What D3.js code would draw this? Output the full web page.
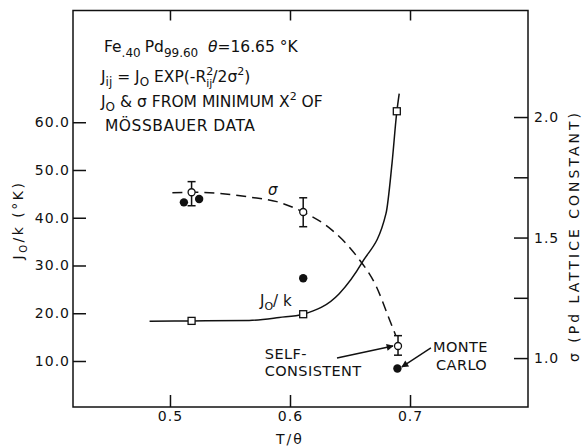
<!DOCTYPE html>
<html>
<head>
<meta charset="utf-8">
<script src="https://cdn.jsdelivr.net/npm/d3@7"></script>
<style>
	body { margin: 0; background: #fff; }
	svg { display: block; font-family: "DejaVu Sans", sans-serif; }
	.axis path { display: none; }
	.axis line { stroke: #111; stroke-width: 1.5; }
	.axis text { font-family: "DejaVu Sans", sans-serif; font-size: 14px; fill: #111; letter-spacing: 1px; }
</style>
</head>
<body>
<svg id="chart" width="582" height="446"></svg>
<script>
// J0/k measured points (squares) and the smooth curve through them
let jT = [0.518, 0.611, 0.689];
let jVal = [18.4, 19.8, 62.3];
let jFitT = [0.483, 0.518, 0.566, 0.591, 0.611, 0.641, 0.66, 0.68, 0.685, 0.689, 0.691];
let jFitV = [18.3, 18.4, 18.5, 19.1, 19.8, 24.1, 30.6, 40.9, 51.4, 62.2, 66.0];

// sigma points with error bars (open circles) and the dashed curve
let sigT = [0.518, 0.611, 0.69];
let sigVal = [1.688, 1.606, 1.05];
let sigLo = [1.632, 1.545, 1.012];
let sigHi = [1.732, 1.665, 1.093];
let sigFitT = [0.502, 0.518, 0.542, 0.566, 0.589, 0.611, 0.635, 0.656, 0.672, 0.683, 0.688];
let sigFitV = [1.686, 1.688, 1.683, 1.668, 1.649, 1.606, 1.531, 1.42, 1.296, 1.158, 1.095];

// filled dots
let dotT = [0.5116, 0.5243, 0.611, 0.6895];
let dotV = [1.646, 1.66, 1.331, 0.957];

// ticks
let xTicks = [0.5, 0.6, 0.7];
let jTicks = [10, 20, 30, 40, 50, 60];
let sigTicks = [1.0, 1.25, 1.5, 1.75, 2.0];
let sigLabels = [1.0, 1.5, 2.0];

let size = { w: 582, h: 446 };
let margins = { top: 10.5, right: 54, bottom: 39, left: 73 };
let svg = d3.select("#chart");

let x = d3.scaleLinear().domain([0.4192, 0.7983])
	.range([margins.left, size.w - margins.right]);
let yJ = d3.scaleLinear().domain([0.366, 83.4])
	.range([size.h - margins.bottom, margins.top]);
let yS = d3.scaleLinear().domain([0.797, 2.442])
	.range([size.h - margins.bottom, margins.top]);

let defs = svg.append("defs");
defs.append("marker")
	.attr("id", "head")
	.attr("viewBox", "0 0 10 10")
	.attr("refX", 9).attr("refY", 5)
	.attr("markerWidth", 9).attr("markerHeight", 7)
	.attr("markerUnits", "userSpaceOnUse")
	.attr("orient", "auto")
	.append("path")
	.attr("d", "M0,0 L10,5 L0,10 Z")
	.attr("fill", "#111");

// axes (ticks point inward)
svg.append("g").classed("axis", true)
	.attr("transform", `translate(0, ${size.h - margins.bottom})`)
	.call(d3.axisBottom(x).tickValues(xTicks).tickSize(-12).tickPadding(4)
		.tickFormat(d3.format(".1f")));

svg.append("g").classed("axis", true)
	.attr("transform", `translate(0, ${margins.top})`)
	.call(d3.axisTop(x).tickValues(xTicks).tickSize(-10).tickFormat(""));

svg.append("g").classed("axis", true)
	.attr("transform", `translate(${margins.left}, 0)`)
	.call(d3.axisLeft(yJ).tickValues(jTicks).tickSize(-13).tickPadding(3)
		.tickFormat(d3.format(".1f")));

svg.append("g").classed("axis", true)
	.attr("transform", `translate(${size.w - margins.right}, 0)`)
	.call(d3.axisRight(yS).tickValues(sigTicks).tickSize(-14).tickPadding(6)
		.tickFormat((d) => sigLabels.includes(d) ? d.toFixed(1) : ""));

// frame
svg.append("rect")
	.attr("x", margins.left).attr("y", margins.top)
	.attr("width", size.w - margins.left - margins.right)
	.attr("height", size.h - margins.top - margins.bottom)
	.attr("fill", "none").attr("stroke", "#111").attr("stroke-width", 1.5);

// axis titles
let jTitle = svg.append("text")
	.attr("transform", "translate(23, 220) rotate(-90)")
	.attr("text-anchor", "middle")
	.attr("font-size", 14).attr("letter-spacing", 2.5).attr("fill", "#111");
jTitle.append("tspan").text("J");
jTitle.append("tspan").attr("font-size", 10).attr("dy", 4).text("O");
jTitle.append("tspan").attr("dy", -4).text("/k (°K)");

svg.append("text")
	.attr("transform", "translate(579, 236) rotate(-90)")
	.attr("text-anchor", "middle")
	.attr("font-size", 14).attr("letter-spacing", 3).attr("fill", "#111")
	.text("σ (Pd LATTICE CONSTANT)");

svg.append("text")
	.attr("x", x(0.6)).attr("y", 444)
	.attr("text-anchor", "middle")
	.attr("font-size", 14).attr("letter-spacing", 2).attr("fill", "#111")
	.text("T/θ");

// J0/k curve and squares
let line = d3.line()
	.x((d) => x(d[0]))
	.curve(d3.curveMonotoneX);

svg.append("path")
	.datum(d3.zip(jFitT, jFitV))
	.attr("d", line.y((d) => yJ(d[1])))
	.attr("fill", "none").attr("stroke", "#111").attr("stroke-width", 1.5);

svg.append("g")
	.selectAll("rect")
	.data(d3.zip(jT, jVal))
	.join("rect")
	.attr("x", (d) => x(d[0]) - 3.5)
	.attr("y", (d) => yJ(d[1]) - 3.5)
	.attr("width", 7).attr("height", 7)
	.attr("fill", "#fff").attr("stroke", "#111").attr("stroke-width", 1.3);

// sigma dashed curve
svg.append("path")
	.datum(d3.zip(sigFitT, sigFitV))
	.attr("d", line.y((d) => yS(d[1])))
	.attr("fill", "none").attr("stroke", "#111").attr("stroke-width", 1.5)
	.attr("stroke-dasharray", "10,6");

// error bars
let bars = svg.append("g").attr("stroke", "#111").attr("stroke-width", 1.5);
sigT.forEach((t, i) => {
	let cx = x(t);
	bars.append("line").attr("x1", cx).attr("x2", cx)
		.attr("y1", yS(sigHi[i])).attr("y2", yS(sigLo[i]));
	bars.append("line").attr("x1", cx - 4).attr("x2", cx + 4)
		.attr("y1", yS(sigHi[i])).attr("y2", yS(sigHi[i]));
	bars.append("line").attr("x1", cx - 4).attr("x2", cx + 4)
		.attr("y1", yS(sigLo[i])).attr("y2", yS(sigLo[i]));
});

svg.append("g")
	.selectAll("circle")
	.data(d3.zip(sigT, sigVal))
	.join("circle")
	.attr("cx", (d) => x(d[0]))
	.attr("cy", (d) => yS(d[1]))
	.attr("r", 3.5)
	.attr("fill", "#fff").attr("stroke", "#111").attr("stroke-width", 1.3);

svg.append("g")
	.selectAll("circle")
	.data(d3.zip(dotT, dotV))
	.join("circle")
	.attr("cx", (d) => x(d[0]))
	.attr("cy", (d) => yS(d[1]))
	.attr("r", 4.2)
	.attr("fill", "#111");

// labels on curves
svg.append("text")
	.attr("x", x(0.5817)).attr("y", yS(1.676))
	.attr("font-size", 15).attr("font-style", "italic").attr("fill", "#111")
	.text("σ");

let jLab = svg.append("text")
	.attr("x", x(0.575)).attr("y", yJ(21.5))
	.attr("font-size", 15).attr("fill", "#111");
jLab.append("tspan").text("J");
jLab.append("tspan").attr("font-size", 11).attr("dy", 4).text("O");
jLab.append("tspan").attr("dy", -4).text("/ k");

// SELF-CONSISTENT / MONTE CARLO arrows
let scEnd = [x(sigT[2]) - 5, yS(sigVal[2])];
svg.append("line")
	.attr("x1", scEnd[0] - 56).attr("y1", scEnd[1] + 12)
	.attr("x2", scEnd[0]).attr("y2", scEnd[1])
	.attr("stroke", "#111").attr("stroke-width", 1.4)
	.attr("marker-end", "url(#head)");

let mcEnd = [x(dotT[3]) + 4.5, yS(dotV[3]) - 1.5];
svg.append("line")
	.attr("x1", mcEnd[0] + 29).attr("y1", mcEnd[1] - 19)
	.attr("x2", mcEnd[0]).attr("y2", mcEnd[1])
	.attr("stroke", "#111").attr("stroke-width", 1.4)
	.attr("marker-end", "url(#head)");

let note = svg.append("g").attr("font-size", 14.5).attr("letter-spacing", 0.4).attr("fill", "#111");
note.append("text").attr("x", x(0.579)).attr("y", yS(0.998)).text("SELF-");
note.append("text").attr("x", x(0.579)).attr("y", yS(0.927)).text("CONSISTENT");
note.append("text").attr("x", x(0.7192)).attr("y", yS(1.025)).text("MONTE");
note.append("text").attr("x", x(0.7217)).attr("y", yS(0.952)).text("CARLO");

// annotation block
let ann = svg.append("g").attr("font-size", 15.5).attr("fill", "#111");

let l1 = ann.append("text").attr("x", 104).attr("y", 52);
l1.append("tspan").text("Fe");
l1.append("tspan").attr("font-size", 12).attr("dy", 5).text(".40");
l1.append("tspan").attr("dy", -5).attr("dx", 4).text("Pd");
l1.append("tspan").attr("font-size", 12).attr("dy", 5).text("99.60");
l1.append("tspan").attr("x", 208).attr("dy", -5).attr("font-style", "italic").text("θ");
l1.append("tspan").text("=16.65 °K");

let l2 = ann.append("text").attr("x", 101).attr("y", 82);
l2.append("tspan").text("J");
l2.append("tspan").attr("font-size", 12).attr("dy", 4).text("ij");
l2.append("tspan").attr("dy", -4).text(" = J");
l2.append("tspan").attr("font-size", 12).attr("dy", 4).text("O");
l2.append("tspan").attr("dy", -4).text(" EXP(-R");
l2.append("tspan").attr("font-size", 11).attr("dy", -7).text("2");
l2.append("tspan").attr("font-size", 11).attr("dx", -7).attr("dy", 12).text("ij");
l2.append("tspan").attr("dy", -5).text("/2σ");
l2.append("tspan").attr("font-size", 11).attr("dy", -7).text("2");
l2.append("tspan").attr("dy", 7).text(")");

let l3 = ann.append("text").attr("x", 101).attr("y", 107);
l3.append("tspan").text("J");
l3.append("tspan").attr("font-size", 12).attr("dy", 4).text("O");
l3.append("tspan").attr("dy", -4).text(" & σ FROM MINIMUM X");
l3.append("tspan").attr("font-size", 11).attr("dy", -7).text("2");
l3.append("tspan").attr("dy", 7).text(" OF");

ann.append("text").attr("x", 105).attr("y", 131).attr("letter-spacing", 0.5).text("MÖSSBAUER DATA");
</script>
</body>
</html>
